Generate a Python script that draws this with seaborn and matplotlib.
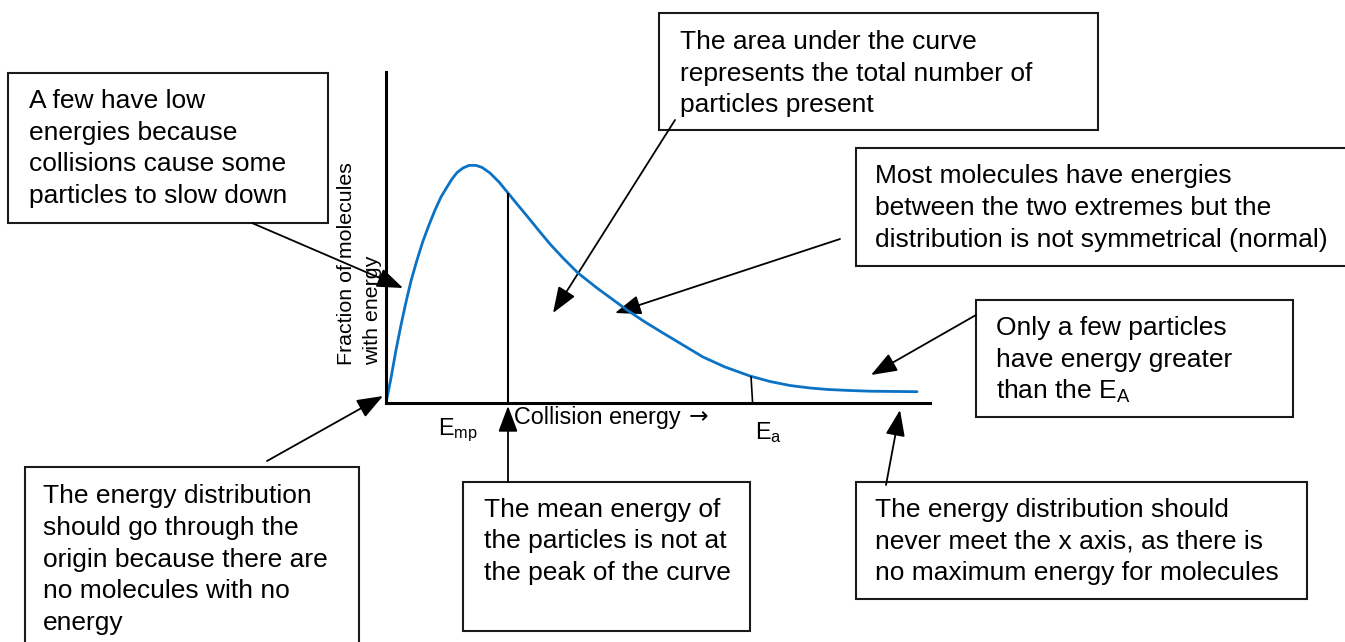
import numpy as np
import matplotlib
matplotlib.use("Agg")
import matplotlib.pyplot as plt
import seaborn as sns
from matplotlib.patches import Rectangle

# ---------------- data (arbitrary units) ----------------
energy = [0.0, 0.125, 0.25, 0.375, 0.5, 0.625, 0.775, 0.925, 1.075, 1.225, 1.375,
          1.525, 1.65, 1.775, 1.925, 2.075, 2.25, 2.4, 2.6, 2.825, 3.05, 3.275,
          3.525, 3.85, 4.1, 4.425, 4.8, 5.275, 5.65, 6.025, 6.475, 6.925, 7.425,
          7.925, 8.475, 9.1, 9.6, 10.1, 10.6, 11.05, 11.6, 12.1, 13.275]
fraction = [0.0, 0.625, 1.325, 1.95, 2.525, 3.05, 3.575, 4.05, 4.45, 4.825, 5.15,
            5.4, 5.6, 5.76, 5.875, 5.94, 5.94, 5.89, 5.75, 5.525, 5.25, 4.975,
            4.675, 4.275, 3.975, 3.625, 3.25, 2.875, 2.6, 2.325, 2.025, 1.75, 1.45,
            1.15, 0.9, 0.675, 0.5375, 0.4375, 0.375, 0.3375, 0.3125, 0.295, 0.2825]
mean_energy = 3.05
activation_energy = 9.125

x_label = "Collision energy"
x_arrow = "\u2192"
y_label_lines = ["Fraction of molecules", "with energy"]
emp_label = r"E$_\mathrm{mp}$"
ea_label = r"E$_\mathrm{a}$"

box_texts = [
    ["A few have low", "energies because", "collisions cause some", "particles to slow down"],
    ["The area under the curve", "represents the total number of", "particles present"],
    ["Most molecules have energies", "between the two extremes but the",
     "distribution is not symmetrical (normal)"],
    ["Only a few particles", "have energy greater", r"than the E$_\mathrm{A}$"],
    ["The energy distribution", "should go through the", "origin because there are",
     "no molecules with no", "energy"],
    ["The mean energy of", "the particles is not at", "the peak of the curve"],
    ["The energy distribution should", "never meet the x axis, as there is",
     "no maximum energy for molecules"],
]

# ---------------- style ----------------
sns.set_theme(style="white")
plt.rcParams["font.family"] = ["Liberation Sans", "DejaVu Sans"]
plt.rcParams["text.color"] = "black"
plt.rcParams["mathtext.fontset"] = "custom"
plt.rcParams["mathtext.rm"] = "Liberation Sans"
plt.rcParams["mathtext.it"] = "Liberation Sans:italic"
plt.rcParams["mathtext.bf"] = "Liberation Sans:bold"

W, H = 1345, 642
fig = plt.figure(figsize=(W / 100, H / 100), dpi=100)
fig.patch.set_facecolor("white")

# overlay in pixel coordinates for boxes / arrows / labels
ov = fig.add_axes([0, 0, 1, 1])
ov.set_xlim(0, W)
ov.set_ylim(H, 0)
ov.axis("off")

# data axes
ox, oy, ex, ty = 386, 403, 930, 72
unit = 40.0
dax = fig.add_axes([ox / W, (H - oy) / H, (ex - ox) / W, (oy - ty) / H])
dax.set_facecolor("none")
sns.lineplot(x=energy, y=fraction, ax=dax, color="#0B72C4", linewidth=2.0)
dax.set_xlim(0, (ex - ox) / unit)
dax.set_ylim(0, (oy - ty) / unit)
dax.set_xticks([])
dax.set_yticks([])
dax.set_xlabel("")
dax.set_ylabel("")
for s in ["top", "right"]:
    dax.spines[s].set_visible(False)
for s in ["left", "bottom"]:
    dax.spines[s].set_color("black")
    dax.spines[s].set_linewidth(2.2)
    dax.spines[s].set_capstyle("projecting")

mean_h = np.interp(mean_energy, energy, fraction)
dax.plot([mean_energy, mean_energy], [0, mean_h], color="black", lw=1.5,
         solid_capstyle="butt")
ea_h = np.interp(activation_energy, energy, fraction)
dax.plot([activation_energy, activation_energy + 0.04], [ea_h, 0], color="black",
         lw=1.2, solid_capstyle="butt")

# ---------------- axis labels ----------------
lab_fs = 16.85
xt = ov.text(514, 424, x_label, fontsize=lab_fs, ha="left", va="baseline", color="black")
ov.text(438, 435, emp_label, fontsize=lab_fs, ha="left", va="baseline", color="black")
ov.text(755, 439, ea_label, fontsize=lab_fs, ha="left", va="baseline", color="black")
ov.text(352, 365, y_label_lines[0], fontsize=15.4, rotation=90, color="black",
        rotation_mode="anchor", ha="left", va="baseline")
ov.text(378, 365, y_label_lines[1], fontsize=15.4, rotation=90, color="black",
        rotation_mode="anchor", ha="left", va="baseline")

fig.canvas.draw()
bb = xt.get_window_extent(renderer=fig.canvas.get_renderer())
x_end = ov.transData.inverted().transform((bb.x1, bb.y0))[0]
ov.text(x_end + 8, 423, x_arrow, fontsize=lab_fs, ha="left", va="baseline",
        color="black", family=["DejaVu Sans"])

# ---------------- boxes ----------------
box_fs = 19.0
boxes = [
    ((8, 73, 328, 223), 29, 108),
    ((659, 13, 1098, 130), 680, 49),
    ((856, 148, 1360, 266), 875, 183.3),
    ((976, 300, 1293, 417), 996, 335),
    ((25, 467, 359, 660), 43, 503.3),
    ((463, 482, 750, 631), 484, 516.7),
    ((856, 482, 1307, 599), 875, 516.7),
]
spacing = 31.7
for (rect, tx, by), lines in zip(boxes, box_texts):
    x0, y0, x1, y1 = rect
    ov.add_patch(Rectangle((x0, y0), x1 - x0, y1 - y0, fill=True, facecolor="white",
                           edgecolor="#1a1a1a", lw=1.5, zorder=2))
    for i, line in enumerate(lines):
        ov.text(tx, by + i * spacing, line, fontsize=box_fs, ha="left",
                va="baseline", color="black", zorder=3)

# ---------------- arrows ----------------
arrows = [
    ((252, 223), (403, 288)),
    ((675, 120), (553, 313)),
    ((840, 239), (615, 313)),
    ((976, 315), (871, 375)),
    ((267, 461), (383, 396)),
    ((508, 482), (508, 406)),
    ((886, 485), (900, 410)),
]
for start, tip in arrows:
    ov.annotate("", xy=tip, xytext=start,
                arrowprops=dict(arrowstyle="-|>,head_length=0.8,head_width=0.3",
                                color="black", lw=1.3, shrinkA=0, shrinkB=0,
                                mutation_scale=20),
                zorder=4)

fig.savefig("out.png", dpi=100, facecolor="white")
